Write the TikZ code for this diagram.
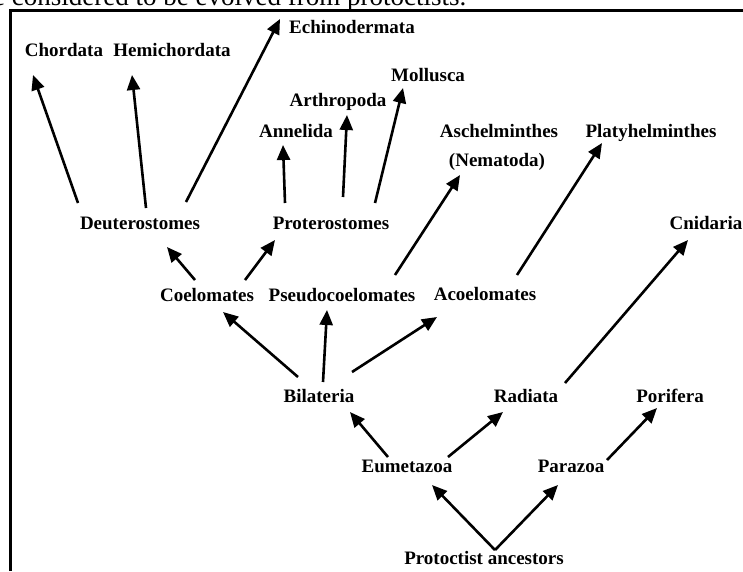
\documentclass[tikz,border=0pt]{standalone}
\usepackage{fontspec}
\setmainfont{Liberation Serif}
\usetikzlibrary{arrows.meta}

\tikzset{
	taxon/.style={font=\fontsize{19}{21}\selectfont\bfseries, inner sep=0pt,
		text height=12pt, text depth=0pt},
	evo/.style={line width=2.6pt, -{Triangle[length=15pt,width=13pt]}},
	frame/.style={line width=3pt}
}

\begin{document}
\begin{tikzpicture}[x=1pt,y=-1pt]
		\useasboundingbox (0,0) rectangle (743,571);
		
		% caption line cut off by the page
		\node[anchor=base west, inner sep=0pt, font=\fontsize{27}{30}\selectfont] (cap) at (-7,5) {e considered to be evolved from protoctists.};
		
		\draw[frame] (10.5,571) -- (10.5,10.5) -- (743,10.5);
		
		% phyla
		\node[taxon] (chord) at (64,50) {Chordata};
		\node[taxon] (hemi) at (172,50) {Hemichordata};
		\node[taxon] (echino) at (352,27) {Echinodermata};
		\node[taxon] (moll) at (428,75) {Mollusca};
		\node[taxon] (arthro) at (338,100) {Arthropoda};
		\node[taxon] (annel) at (296,131) {Annelida};
		\node[taxon] (asch) at (499,131) {Aschelminthes};
		\node[taxon] (nema) at (497,160) {(Nematoda)};
		\node[taxon] (platy) at (651,131) {Platyhelminthes};
		\node[taxon] (cnid) at (706,223) {Cnidaria};
		
		% groups
		\node[taxon] (deut) at (140,223) {Deuterostomes};
		\node[taxon] (proto) at (331,223) {Proterostomes};
		\node[taxon] (coel) at (207,295) {Coelomates};
		\node[taxon] (pseudo) at (342,295) {Pseudocoelomates};
		\node[taxon] (acoel) at (485,294) {Acoelomates};
		\node[taxon] (bilat) at (319,396) {Bilateria};
		\node[taxon] (radi) at (526,396) {Radiata};
		\node[taxon] (porif) at (670,396) {Porifera};
		\node[taxon] (eumet) at (407,466) {Eumetazoa};
		\node[taxon] (paraz) at (571,466) {Parazoa};
		\node[taxon] (protoc) at (484,558) {Protoctist ancestors};
		
		\draw[evo] ([shift={(11,-8)}]protoc.center) -- ([shift={(25,19)}]eumet.center);
		\draw[evo] ([shift={(11,-8)}]protoc.center) -- ([shift={(-13,19)}]paraz.center);
		
		\draw[evo] ([shift={(-19,-9)}]eumet.center) -- ([shift={(31,16)}]bilat.center);
		\draw[evo] ([shift={(41,-9)}]eumet.center) -- ([shift={(-23,16)}]radi.center);
		\draw[evo] ([shift={(36,-6)}]paraz.center) -- ([shift={(-13,12)}]porif.center);
		\draw[evo] ([shift={(39,-13)}]radi.center) -- ([shift={(-18,17)}]cnid.center);
		
		\draw[evo] ([shift={(-21,-19)}]bilat.center) -- ([shift={(16,17)}]coel.center);
		\draw[evo] ([shift={(4,-14)}]bilat.center) -- ([shift={(-15,15)}]pseudo.center);
		\draw[evo] ([shift={(33,-24)}]bilat.center) -- ([shift={(-48,23)}]acoel.center);
		
		\draw[evo] ([shift={(-12,-15)}]coel.center) -- ([shift={(27,24)}]deut.center);
		\draw[evo] ([shift={(38,-15)}]coel.center) -- ([shift={(-56,17)}]proto.center);
		\draw[evo] ([shift={(53,-20)}]pseudo.center) -- ([shift={(-37,15)}]nema.center);
		\draw[evo] ([shift={(32,-19)}]acoel.center) -- ([shift={(-49,12)}]platy.center);
		
		\draw[evo] ([shift={(-62,-20)}]deut.center) -- ([shift={(-31,25)}]chord.center);
		\draw[evo] ([shift={(6,-15)}]deut.center) -- ([shift={(-40,25)}]hemi.center);
		\draw[evo] ([shift={(46,-21)}]deut.center) -- ([shift={(-72,-8)}]echino.center);
		
		\draw[evo] ([shift={(-46,-20)}]proto.center) -- ([shift={(-13,14)}]annel.center);
		\draw[evo] ([shift={(12,-26)}]proto.center) -- ([shift={(9,15)}]arthro.center);
		\draw[evo] ([shift={(44,-20)}]proto.center) -- ([shift={(-25,13)}]moll.center);
		
	\end{tikzpicture}
\end{document}
